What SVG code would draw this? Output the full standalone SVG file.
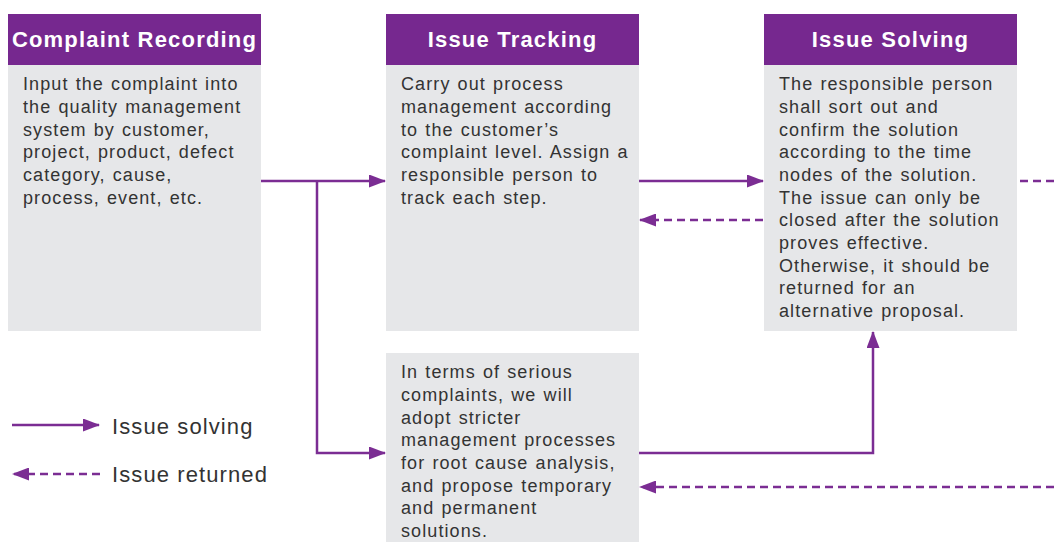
<svg xmlns="http://www.w3.org/2000/svg" width="1054" height="542" viewBox="0 0 1054 542">
<defs>
<style>
.hdr{fill:#76288F}
.body{fill:#E6E7E9}
.ht{font-family:"Liberation Sans",Arial,sans-serif;font-weight:bold;font-size:22px;fill:#fff;text-anchor:middle;letter-spacing:1.2px}
.bt{font-family:"Liberation Sans",Arial,sans-serif;font-size:18px;fill:#333;letter-spacing:1.1px;word-spacing:1px}
.lg{font-family:"Liberation Sans",Arial,sans-serif;font-size:22px;fill:#333;letter-spacing:1.1px}
.solid{fill:none;stroke:#7B2D93;stroke-width:2.5}
.dash{fill:none;stroke:#7B2D93;stroke-width:2.5;stroke-dasharray:8 5}
</style>
<marker id="ah" markerUnits="userSpaceOnUse" markerWidth="17" markerHeight="13" refX="16" refY="6.5" orient="auto">
<path d="M0,0 L17,6.5 L0,13 z" fill="#7B2D93"/>
</marker>
</defs>

<g id="complaint-recording">
<rect class="hdr" x="8" y="14" width="253" height="51"/>
<rect class="body" x="8" y="65" width="253" height="266"/>
<text class="ht" x="134.5" y="47">Complaint Recording</text>
<text class="bt" x="23">
<tspan x="23" y="90">Input the complaint into</tspan>
<tspan x="23" y="113">the quality management</tspan>
<tspan x="23" y="136">system by customer,</tspan>
<tspan x="23" y="158">project, product, defect</tspan>
<tspan x="23" y="181">category, cause,</tspan>
<tspan x="23" y="204">process, event, etc.</tspan>
</text>
</g>

<g id="issue-tracking">
<rect class="hdr" x="386" y="14" width="253" height="51"/>
<rect class="body" x="386" y="65" width="253" height="266"/>
<text class="ht" x="512.5" y="47">Issue Tracking</text>
<text class="bt">
<tspan x="401" y="90">Carry out process</tspan>
<tspan x="401" y="113">management according</tspan>
<tspan x="401" y="136">to the customer’s</tspan>
<tspan x="401" y="158">complaint level. Assign a</tspan>
<tspan x="401" y="181">responsible person to</tspan>
<tspan x="401" y="204">track each step.</tspan>
</text>
</g>

<g id="issue-solving">
<rect class="hdr" x="764" y="14" width="253" height="51"/>
<rect class="body" x="764" y="65" width="253" height="266"/>
<text class="ht" x="890.5" y="47">Issue Solving</text>
<text class="bt">
<tspan x="779" y="90">The responsible person</tspan>
<tspan x="779" y="113">shall sort out and</tspan>
<tspan x="779" y="136">confirm the solution</tspan>
<tspan x="779" y="158">according to the time</tspan>
<tspan x="779" y="181">nodes of the solution.</tspan>
<tspan x="779" y="204">The issue can only be</tspan>
<tspan x="779" y="226">closed after the solution</tspan>
<tspan x="779" y="249">proves effective.</tspan>
<tspan x="779" y="272">Otherwise, it should be</tspan>
<tspan x="779" y="294">returned for an</tspan>
<tspan x="779" y="317">alternative proposal.</tspan>
</text>
</g>

<g id="serious-complaints">
<rect class="body" x="386" y="353" width="253" height="189"/>
<text class="bt">
<tspan x="401" y="378">In terms of serious</tspan>
<tspan x="401" y="401">complaints, we will</tspan>
<tspan x="401" y="424">adopt stricter</tspan>
<tspan x="401" y="446">management processes</tspan>
<tspan x="401" y="469">for root cause analysis,</tspan>
<tspan x="401" y="492">and propose temporary</tspan>
<tspan x="401" y="514">and permanent</tspan>
<tspan x="401" y="537">solutions.</tspan>
</text>
</g>

<g id="connectors">
<path class="solid" d="M261,181 H385" marker-end="url(#ah)"/>
<path class="solid" d="M317,181 V453 H385" marker-end="url(#ah)"/>
<path class="solid" d="M639,181 H763" marker-end="url(#ah)"/>
<path class="dash" d="M763,220 H640" marker-end="url(#ah)"/>
<path class="dash" d="M1020,181 H1054"/>
<path class="solid" d="M639,453 H873 V332" marker-end="url(#ah)"/>
<path class="dash" d="M1054,487 H640" marker-end="url(#ah)"/>
</g>

<g id="legend">
<path class="solid" d="M12,425 H99" marker-end="url(#ah)"/>
<text class="lg" x="112" y="434">Issue solving</text>
<path class="dash" d="M100,474 H13" marker-end="url(#ah)"/>
<text class="lg" x="112" y="482">Issue returned</text>
</g>
</svg>
